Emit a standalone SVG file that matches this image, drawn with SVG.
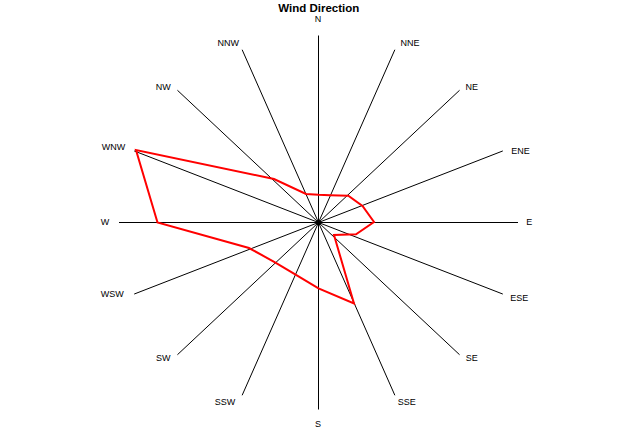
<svg xmlns="http://www.w3.org/2000/svg" width="635" height="430" viewBox="0 0 635 430">
<style>
.lbl{font-family:"Liberation Sans",Arial,sans-serif;font-size:9px;fill:#000;text-anchor:middle}
.title{font-family:"Liberation Sans",Arial,sans-serif;font-size:11.5px;font-weight:bold;fill:#000;text-anchor:middle}
.spoke{stroke:#000;stroke-width:1;fill:none}
.data{stroke:#ff0000;stroke-width:2;fill:none;stroke-linejoin:miter}
</style>
<rect width="635" height="430" fill="#fff"/>
<text class="title" x="318.8" y="12">Wind Direction</text>
<g id="connectors">
<line class="spoke" x1="318.5" y1="222.5" x2="318.5" y2="35.5"/>
<line class="spoke" x1="318.5" y1="222.5" x2="394.85" y2="49.73"/>
<line class="spoke" x1="318.5" y1="222.5" x2="459.57" y2="90.27"/>
<line class="spoke" x1="318.5" y1="222.5" x2="502.81" y2="150.94"/>
<line class="spoke" x1="318.5" y1="222.5" x2="518" y2="222.5"/>
<line class="spoke" x1="318.5" y1="222.5" x2="502.81" y2="294.06"/>
<line class="spoke" x1="318.5" y1="222.5" x2="459.57" y2="354.73"/>
<line class="spoke" x1="318.5" y1="222.5" x2="394.85" y2="395.27"/>
<line class="spoke" x1="318.5" y1="222.5" x2="318.5" y2="409.5"/>
<line class="spoke" x1="318.5" y1="222.5" x2="242.15" y2="395.27"/>
<line class="spoke" x1="318.5" y1="222.5" x2="177.43" y2="354.73"/>
<line class="spoke" x1="318.5" y1="222.5" x2="134.19" y2="294.06"/>
<line class="spoke" x1="318.5" y1="222.5" x2="119" y2="222.5"/>
<line class="spoke" x1="318.5" y1="222.5" x2="134.19" y2="150.94"/>
<line class="spoke" x1="318.5" y1="222.5" x2="177.43" y2="90.27"/>
<line class="spoke" x1="318.5" y1="222.5" x2="242.15" y2="49.73"/>
</g>
<circle id="center" cx="318.5" cy="222.5" r="2.6" fill="#000"/>
<polygon id="data" class="data" points="318.5,194.8 330,195.2 348.3,195.7 362.5,206 374,222 356,234.3 334,235 354,303.5 318.5,288.3 293.5,273.3 275,262.3 249,248 157.5,222.5 136,150 274,179 306,194"/>
<g id="n-N"><text class="lbl" x="318" y="22.3">N</text></g>
<g id="n-NNE"><text class="lbl" x="410" y="46.3">NNE</text></g>
<g id="n-NE"><text class="lbl" x="471.7" y="90.3">NE</text></g>
<g id="n-ENE"><text class="lbl" x="520.5" y="154.3">ENE</text></g>
<g id="n-E"><text class="lbl" x="529.3" y="225.3">E</text></g>
<g id="n-ESE"><text class="lbl" x="519.3" y="301.3">ESE</text></g>
<g id="n-SE"><text class="lbl" x="471.7" y="361">SE</text></g>
<g id="n-SSE"><text class="lbl" x="406.7" y="405">SSE</text></g>
<g id="n-S"><text class="lbl" x="318" y="426.6">S</text></g>
<g id="n-SSW"><text class="lbl" x="225" y="405">SSW</text></g>
<g id="n-SW"><text class="lbl" x="163.3" y="361">SW</text></g>
<g id="n-WSW"><text class="lbl" x="112.3" y="296.6">WSW</text></g>
<g id="n-W"><text class="lbl" x="105" y="225.3">W</text></g>
<g id="n-WNW"><text class="lbl" x="113.5" y="150">WNW</text></g>
<g id="n-NW"><text class="lbl" x="163.3" y="90.3">NW</text></g>
<g id="n-NNW"><text class="lbl" x="228.3" y="46.3">NNW</text></g>
</svg>
